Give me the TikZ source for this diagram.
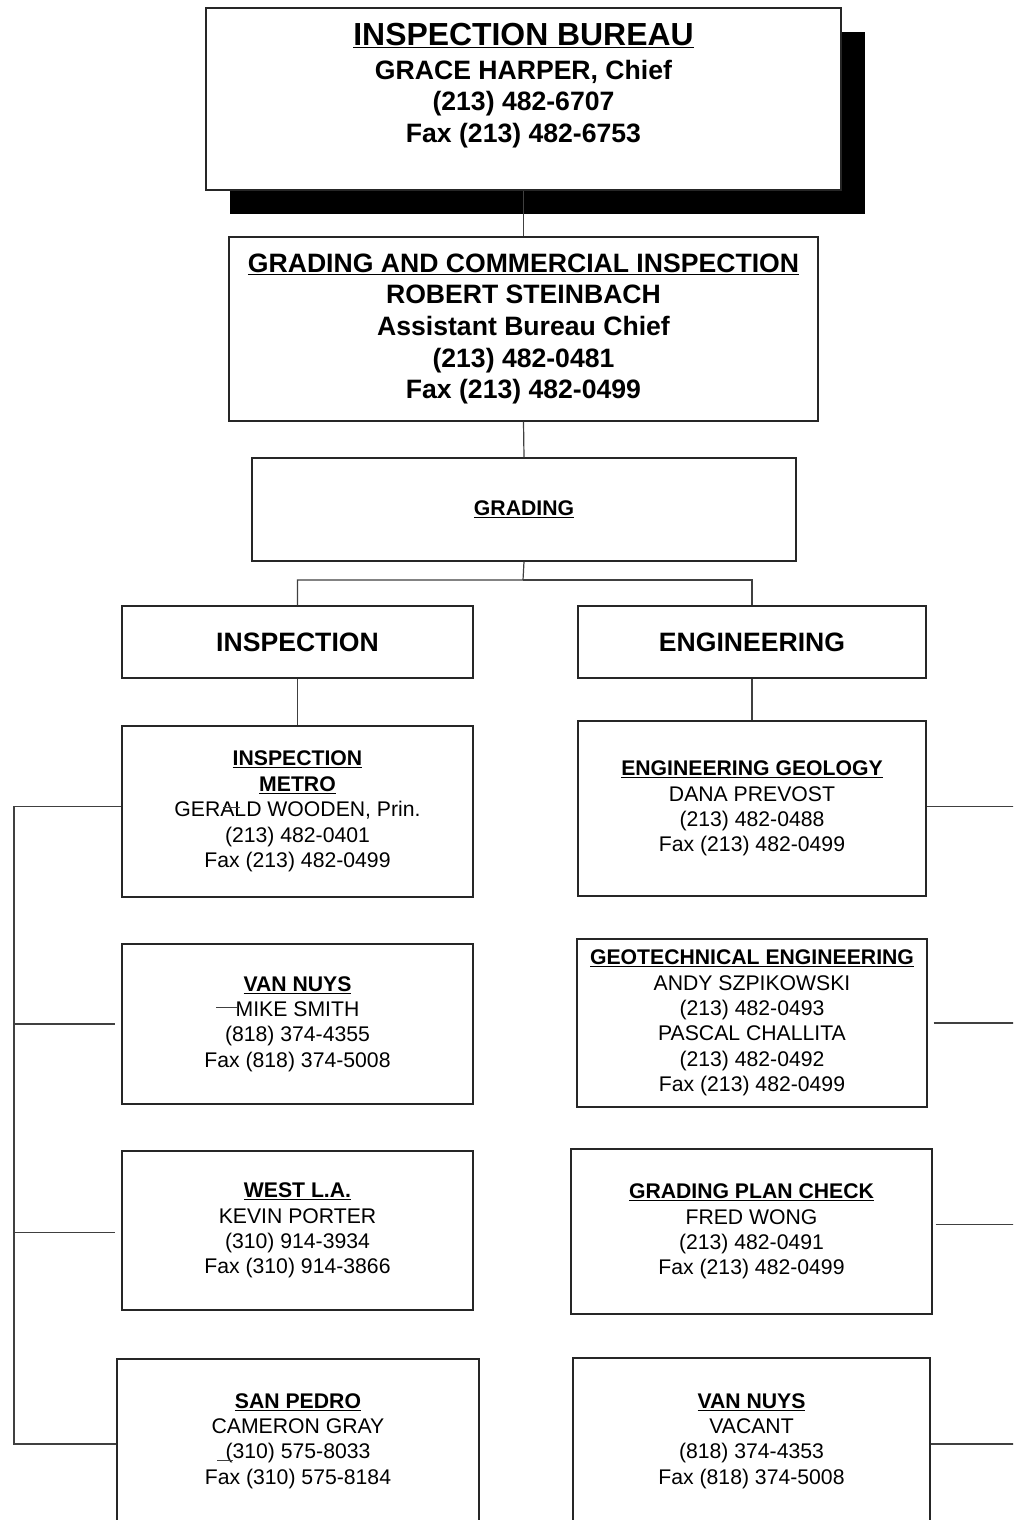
\documentclass[tikz,border=0pt]{standalone}
\usepackage{fontspec}
\setmainfont{Liberation Sans}
\usetikzlibrary{positioning,shadows}

\newcommand{\headfont}{\fontsize{26.6}{31.7}\selectfont\bfseries}
\newcommand{\titlefont}{\fontsize{31.9}{35}\selectfont\bfseries}
\newcommand{\unitfont}{\fontsize{21.2}{25.4}\selectfont}

\begin{document}
\begin{tikzpicture}[x=1pt,y=-1pt,
	unit/.style={draw=black!85, line width=1.2pt, fill=white, align=center, inner sep=0pt, font=\unitfont},
	link/.style={draw=black!75, line width=1.2pt}]
	\useasboundingbox (0,0) rectangle (1013,1520);
	\clip (0,0) rectangle (1013,1520);

	% bureau and assistant chief
	\node[unit, minimum width=635pt, minimum height=182pt, font=\headfont, text depth=32pt,
		drop shadow={shadow xshift=24pt, shadow yshift=-24pt, fill=black, opacity=1}] (bureau) at (523.5,99)
		{{\titlefont\underline{INSPECTION BUREAU}}\\[2pt]GRACE HARPER, Chief\\(213) 482-6707\\Fax (213) 482-6753};
	\node[unit, minimum width=589pt, minimum height=184pt, font=\headfont] (grc) at (523.5,329)
		{\underline{GRADING AND COMMERCIAL INSPECTION}\\ROBERT STEINBACH\\Assistant Bureau Chief\\(213) 482-0481\\Fax (213) 482-0499};
	\node[unit, minimum width=544pt, minimum height=103pt, font=\unitfont\bfseries] (grading) at (524,509.5)
		{\underline{GRADING}};

	% the two sections
	\node[unit, minimum width=351pt, minimum height=72pt, font=\headfont] (insp) at (297.5,642) {INSPECTION};
	\node[unit, minimum width=348pt, minimum height=72pt, font=\headfont] (eng) at (752,642) {ENGINEERING};

	% inspection offices
	\node[unit, minimum width=351pt, minimum height=171pt] (metro) at (297.5,811.5)
		{\textbf{\underline{INSPECTION}}\\\textbf{\underline{METRO}}\\GERALD WOODEN, Prin.\\(213) 482-0401\\Fax (213) 482-0499};
	\node[unit, minimum width=351pt, minimum height=160pt] (vannuys) at (297.5,1024)
		{\textbf{\underline{VAN NUYS}}\\MIKE SMITH\\(818) 374-4355\\Fax (818) 374-5008};
	\node[unit, minimum width=351pt, minimum height=159pt] (westla) at (297.5,1230.5)
		{\textbf{\underline{WEST L.A.}}\\KEVIN PORTER\\(310) 914-3934\\Fax (310) 914-3866};
	\node[unit, minimum width=362pt, minimum height=164pt] (sanpedro) at (298,1441)
		{\textbf{\underline{SAN PEDRO}}\\CAMERON GRAY\\(310) 575-8033\\Fax (310) 575-8184};

	% engineering offices
	\node[unit, minimum width=348pt, minimum height=175pt] (geology) at (752,808.5)
		{\textbf{\underline{ENGINEERING GEOLOGY}}\\DANA PREVOST\\(213) 482-0488\\Fax (213) 482-0499};
	\node[unit, minimum width=350pt, minimum height=168pt] (geotech) at (752,1023)
		{\textbf{\underline{GEOTECHNICAL ENGINEERING}}\\ANDY SZPIKOWSKI\\(213) 482-0493\\PASCAL CHALLITA\\(213) 482-0492\\Fax (213) 482-0499};
	\node[unit, minimum width=361pt, minimum height=165pt] (plancheck) at (751.5,1231.5)
		{\textbf{\underline{GRADING PLAN CHECK}}\\FRED WONG\\(213) 482-0491\\Fax (213) 482-0499};
	\node[unit, minimum width=357pt, minimum height=166pt] (vannuysE) at (751.5,1441)
		{\textbf{\underline{VAN NUYS}}\\VACANT\\(818) 374-4353\\Fax (818) 374-5008};

	% chain of command
	\draw[link] (bureau.south) -- (grc.north);
	\draw[link] (grc.south) -- (grading.north);
	\coordinate (split) at (523,580);
	\draw[link] (grading.south) -- (split) -| (insp.north);
	\draw[link] (split) -| (eng.north);
	\draw[link] (insp.south) -- (metro.north);
	\draw[link] (eng.south) -- (geology.north);

	% left bus
	\coordinate (busL) at (14,0);
	\draw[link] ([yshift=5pt]metro.west) -- ([yshift=5pt]metro.west -| busL)
		-- ([yshift=-3pt]sanpedro.west -| busL) -- ([yshift=-3pt]sanpedro.west);
	\draw[link, shorten >=6pt] (vannuys.west -| busL) -- (vannuys.west);
	\draw[link, shorten >=6pt] ([yshift=-2pt]westla.west -| busL) -- ([yshift=-2pt]westla.west);

	% right bus, off the page
	\coordinate (busR) at (1020,0);
	\draw[link] ([yshift=2pt]geology.east) -- ([yshift=2pt]geology.east -| busR);
	\draw[link, shorten <=6pt] (geotech.east) -- (geotech.east -| busR);
	\draw[link, shorten <=3pt] ([yshift=7pt]plancheck.east) -- ([yshift=7pt]plancheck.east -| busR);
	\draw[link] ([yshift=-3pt]vannuysE.east) -- ([yshift=-3pt]vannuysE.east -| busR);

	% stray marks
	\draw[black!75, line width=1pt] (223,807) -- (240,807);
	\draw[black!75, line width=1pt] (216,1007) -- (237,1007);
	\draw[black!75, line width=1pt] (217,1460) -- (233,1460);
\end{tikzpicture}
\end{document}
